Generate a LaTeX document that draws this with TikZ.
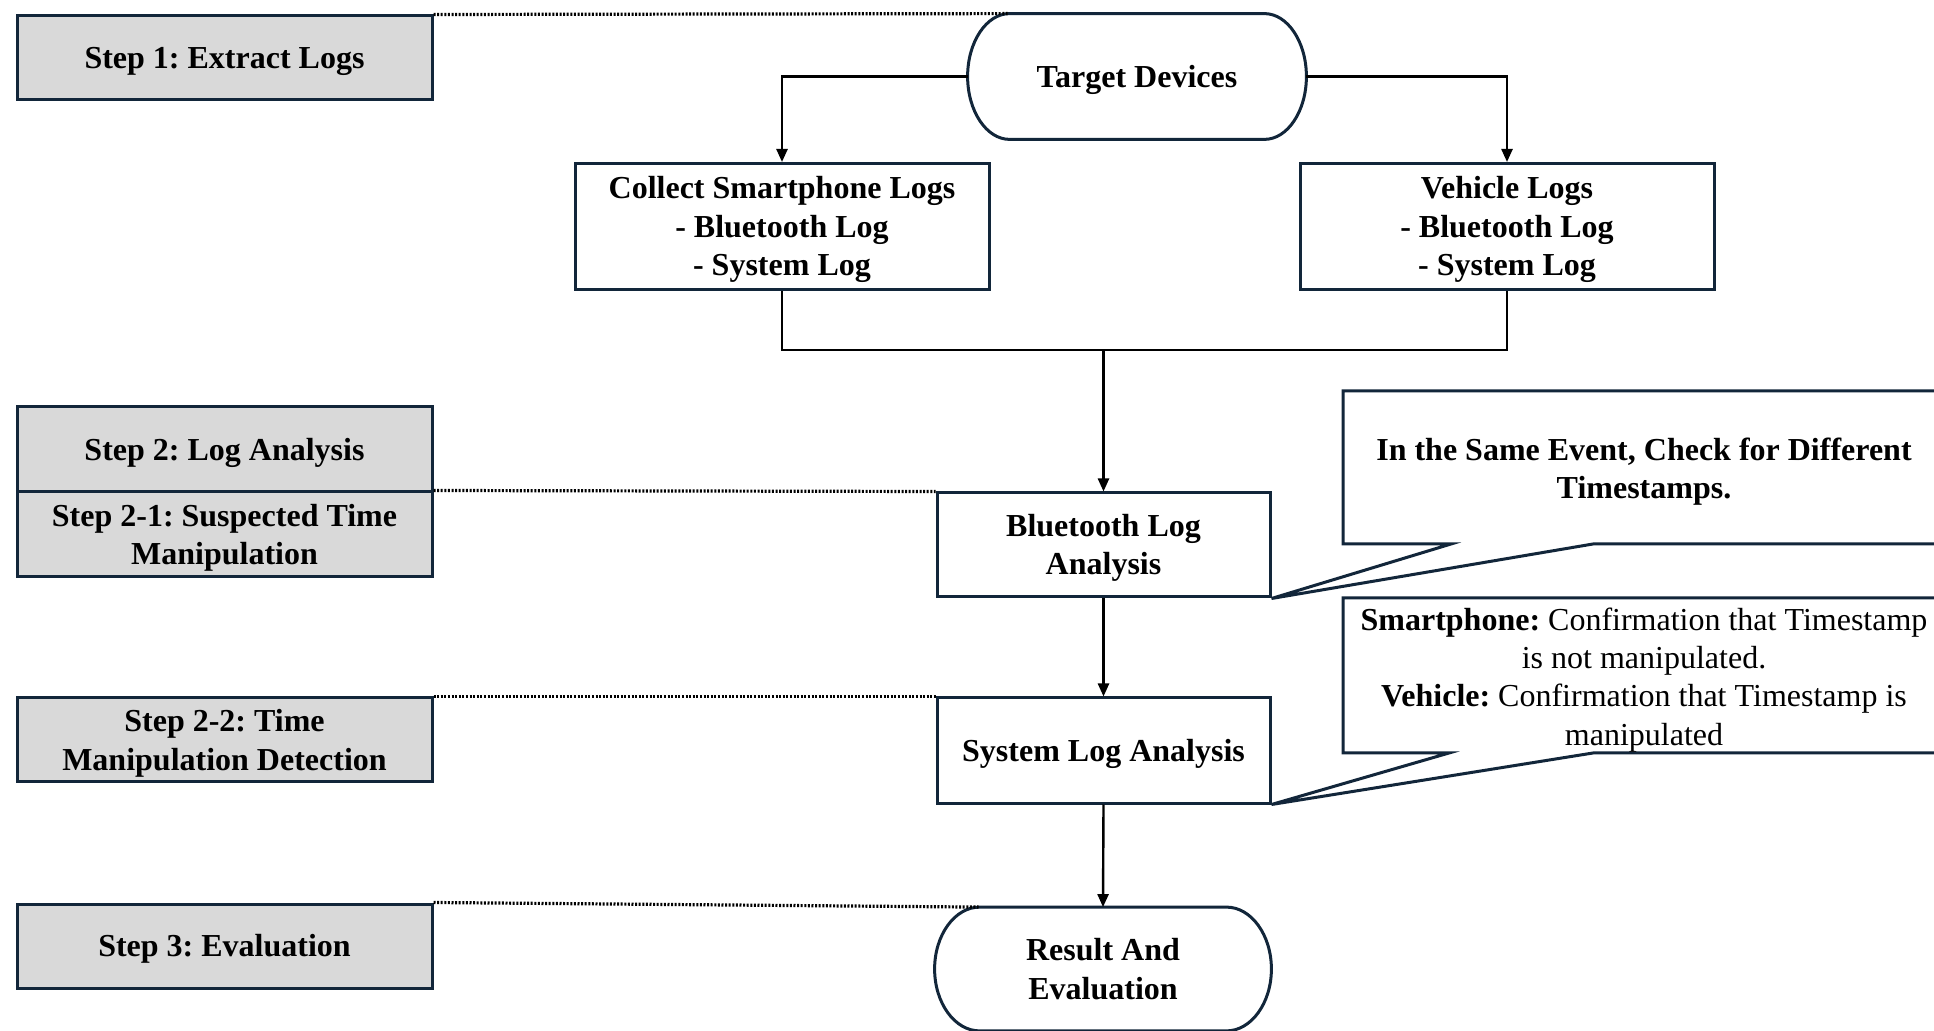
\documentclass[tikz,border=0pt]{standalone}
\usepackage{fontspec}
\setmainfont{Liberation Serif}
\usetikzlibrary{arrows.meta,calc}
\definecolor{edgecol}{HTML}{12263A}
\definecolor{stepfill}{HTML}{D9D9D9}
\frenchspacing

% Terminal outline: flat top and bottom, half-elliptic sides.
% #1 node name, #2 horizontal radius of the sides, #3 vertical control offset
\newcommand\terminaloutline[3]{%
  \draw[edgecol, line width=1.5pt]
    ($(#1.north west)+(#2,0)$)
    -- ($(#1.north east)+(-#2,0)$)
    .. controls +(0.5523*#2,0) and +(0,-#3) .. (#1.east)
    .. controls +(0,#3) and +(0.5523*#2,0) .. ($(#1.south east)+(-#2,0)$)
    -- ($(#1.south west)+(#2,0)$)
    .. controls +(-0.5523*#2,0) and +(0,#3) .. (#1.west)
    .. controls +(0,-#3) and +(-0.5523*#2,0) .. ($(#1.north west)+(#2,0)$)
    -- cycle;%
}

\begin{document}
\begin{tikzpicture}[x=0.5pt, y=-0.5pt,
  every node/.style={font=\fontsize{16}{19.2}\selectfont, align=center, inner sep=0pt,
    text height=14.3pt, text depth=3.5pt},
  lines2/.style={text height=33.5pt},
  lines3/.style={text height=52.7pt},
  lines4/.style={text height=71.9pt},
  stepbox/.style={draw=edgecol, fill=stepfill, line width=1.5pt,
    minimum width=207.5pt, minimum height=42pt,
    font=\fontsize{16}{19.2}\selectfont\bfseries},
  flowbox/.style={draw=edgecol, fill=white, line width=1.5pt,
    font=\fontsize{16}{19.2}\selectfont\bfseries},
  terminal/.style={font=\fontsize{16}{19.2}\selectfont\bfseries},
  conn/.style={line width=1.2pt, black},
  arr/.style={conn, -{Triangle[length=6.5pt, width=5.5pt]}},
  guide/.style={line width=1.6pt, black, dash pattern=on 1pt off 0.8pt},
  calloutbox/.style={draw=edgecol, fill=white, line width=1.5pt}]

\useasboundingbox (0,0) rectangle (1934,1031);
\clip (0,0) rectangle (1934,1031);

% Step labels on the left
\node[stepbox] (s1) at (224.5,58) {Step 1: Extract Logs};
\node[stepbox, minimum height=42.5pt] (s2) at (224.5,449.5) {Step 2: Log Analysis};
\node[stepbox, lines2, minimum height=42.5pt] (s21) at (224.5,534.5) {Step 2-1: Suspected Time\\Manipulation};
\node[stepbox, lines2] (s22) at (224.5,740) {Step 2-2: Time\\Manipulation Detection};
\node[stepbox] (s3) at (224.5,946) {Step 3: Evaluation};

% Flow
\node[terminal, minimum width=169pt, minimum height=62.5pt] (td) at (1137,76.5) {Target Devices};
\terminaloutline{td}{42}{34.5}

\node[flowbox, lines3, minimum width=207pt, minimum height=63pt] (sp) at (782,226.5)
  {Collect Smartphone Logs\\- Bluetooth Log\\- System Log};
\node[flowbox, lines3, minimum width=207pt, minimum height=63pt] (vl) at (1507,226.5)
  {Vehicle Logs\\- Bluetooth Log\\- System Log};

\node[flowbox, lines2, minimum width=166.5pt, minimum height=52pt] (bt) at (1103.5,545)
  {Bluetooth Log\\Analysis};
\node[flowbox, minimum width=166.5pt, minimum height=52.5pt] (sl) at (1103.5,750.5)
  {System Log Analysis};

\node[terminal, lines2, minimum width=168pt, minimum height=61.5pt] (re) at (1103,969)
  {Result And\\Evaluation};
\terminaloutline{re}{45}{34}

% Connectors
\draw[arr] (td.west) -| (sp.north);
\draw[arr] (td.east) -| (vl.north);
\coordinate (mj) at (1103.5,350);
\draw[conn] (sp.south) -- (sp.south |- mj) -- (vl.south |- mj) -- (vl.south);
\draw[arr] (mj) -- (bt.north);
\draw[arr] (bt.south) -- (sl.north);
\draw[arr] (sl.south) -- (re.north);

% Guides from the step labels
\coordinate (tdtop) at ($(td.north west)+(40,0)$);
\coordinate (retop) at ($(re.north west)+(44,0)$);
\draw[guide] (s1.north east) -- (tdtop);
\draw[guide] (s21.north east) -- (bt.north west);
\draw[guide] (s22.north east) -- (sl.north west);
\draw[guide] (s3.north east) -- (retop);

% Callouts
\draw[calloutbox] (1343,391) -- (1950,391) -- (1950,544) -- (1593,544)
  -- (bt.south east) -- (1451,544) -- (1343,544) -- cycle;
\node[lines2, font=\fontsize{16}{19.2}\selectfont\bfseries] (n1) at (1644,468.5)
  {In the Same Event, Check for Different\\Timestamps.};

\draw[calloutbox] (1343,598) -- (1950,598) -- (1950,753) -- (1593,753)
  -- (sl.south east) -- (1449,753) -- (1343,753) -- cycle;
\node[lines4] (n2) at (1644,677)
  {\textbf{Smartphone:} Confirmation that Timestamp\\is not manipulated.\\
   \textbf{Vehicle:} Confirmation that Timestamp is\\manipulated};

\end{tikzpicture}
\end{document}
